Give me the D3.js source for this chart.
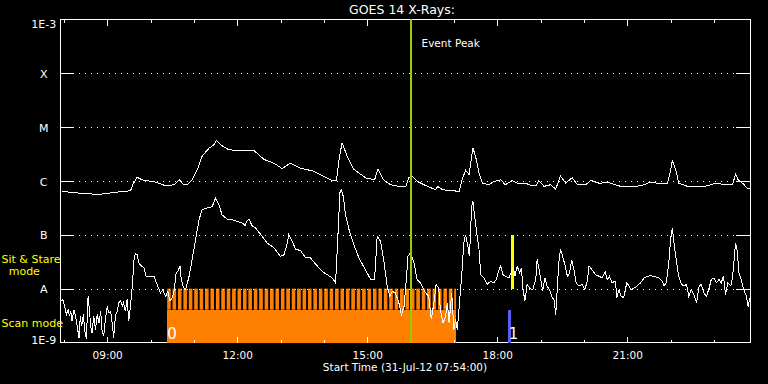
<!DOCTYPE html>
<html><head><meta charset="utf-8">
<script src="https://cdn.jsdelivr.net/npm/d3@7"></script>
<style>
html,body{margin:0;padding:0;background:#000;}
svg{display:block;}
text{font-family:"DejaVu Sans",sans-serif;}
</style></head><body>
<svg id="c" width="768" height="384"></svg>
<script>
// ---------------- data ----------------
const chartTitle = "GOES 14 X-Rays:";
const xAxisTitle = "Start Time (31-Jul-12 07:54:00)";
const dayStart = "07:54", dayEnd = "23:50";
const levelValues = [1e-9, 1e-8, 1e-7, 1e-6, 1e-5, 1e-4, 1e-3];
const levelLabels = ["1E-9", "A", "B", "C", "M", "X", "1E-3"];

// long channel (1-8 A), hour of day and log10 flux (W/m^2)
const longHours = [7.95,8.27,8.79,9.19,9.54,9.59,9.69,9.81,10.12,10.35,10.54,10.67,10.75,10.85,10.96,11.08,11.19,11.35,11.46,11.52,11.62,11.81,12.00,12.23,12.38,12.62,12.85,13.04,13.22,13.46,13.77,13.96,14.19,14.29,14.35,14.42,14.54,14.69,14.96,15.17,15.25,15.38,15.54,15.73,15.89,15.96,16.04,16.16,16.39,16.58,16.63,16.73,16.92,17.12,17.19,17.27,17.35,17.44,17.50,17.58,17.66,17.81,17.92,18.08,18.19,18.35,18.46,18.66,18.79,18.89,18.96,19.08,19.23,19.35,19.46,19.58,19.73,19.85,20.04,20.16,20.35,20.58,20.85,21.15,21.39,21.54,21.77,21.93,21.99,22.04,22.12,22.19,22.39,22.62,22.85,23.04,23.27,23.43,23.50,23.56,23.66,23.77,23.85];
const longLogFlux = [-6.19,-6.22,-6.25,-6.21,-6.18,-6.07,-5.93,-5.98,-6.02,-6.09,-6.07,-5.98,-6.06,-6.07,-5.98,-5.79,-5.54,-5.39,-5.33,-5.25,-5.33,-5.42,-5.43,-5.43,-5.43,-5.60,-5.67,-5.77,-5.67,-5.76,-5.82,-5.90,-5.99,-5.99,-5.60,-5.29,-5.54,-5.78,-5.94,-5.98,-5.78,-5.98,-6.07,-6.10,-6.10,-5.94,-5.91,-6.01,-6.10,-6.16,-6.10,-6.16,-6.18,-6.19,-5.98,-5.80,-5.88,-5.39,-5.54,-5.85,-6.04,-6.07,-6.01,-5.98,-6.07,-5.99,-6.04,-6.04,-6.09,-6.09,-5.99,-6.10,-6.07,-6.15,-5.91,-6.04,-5.94,-6.07,-6.07,-5.99,-6.04,-6.03,-6.10,-6.11,-6.07,-6.02,-6.05,-6.04,-5.85,-5.62,-5.79,-6.04,-6.10,-6.11,-6.09,-6.04,-6.07,-6.07,-5.87,-5.98,-6.04,-6.13,-6.15];

// short channel (0.5-4 A)
const shortHours = [7.95,7.98,8.02,8.06,8.10,8.13,8.16,8.19,8.23,8.27,8.32,8.35,8.38,8.41,8.45,8.48,8.52,8.56,8.59,8.62,8.65,8.69,8.73,8.77,8.81,8.85,8.88,8.92,8.96,9.00,9.04,9.08,9.12,9.15,9.19,9.23,9.27,9.31,9.35,9.38,9.42,9.46,9.50,9.54,9.58,9.62,9.65,9.69,9.73,9.79,9.85,9.90,10.00,10.08,10.15,10.23,10.28,10.35,10.40,10.45,10.50,10.55,10.59,10.63,10.68,10.71,10.75,10.79,10.82,10.89,10.96,11.04,11.12,11.19,11.31,11.42,11.50,11.58,11.65,11.77,11.88,12.00,12.12,12.18,12.23,12.28,12.35,12.42,
12.58,12.69,12.85,13.00,13.08,13.14,13.19,13.27,13.35,13.46,13.58,13.69,13.85,13.96,14.08,14.19,14.27,14.32,14.37,14.40,14.45,14.50,14.58,14.69,14.81,14.96,15.08,15.17,15.23,15.31,15.39,15.46,15.52,15.58,15.65,15.73,15.79,15.85,15.91,15.94,15.99,16.02,16.08,16.15,16.23,16.29,16.35,16.42,16.48,16.54,16.59,16.65,16.69,16.75,16.81,
16.85,16.89,16.95,17.00,17.04,17.08,17.13,17.18,17.23,17.27,17.31,17.36,17.41,17.44,17.49,17.54,17.58,17.62,17.69,17.77,17.85,17.92,17.98,18.04,18.08,18.13,18.19,18.27,18.32,18.37,18.41,18.46,18.52,18.56,18.59,18.64,18.69,18.75,18.82,18.89,18.92,18.96,19.01,19.05,19.10,19.15,19.21,19.27,19.31,19.35,19.39,19.42,19.46,19.50,19.56,19.62,19.67,19.72,19.77,19.82,19.89,19.96,20.02,20.08,20.12,20.19,20.27,20.35,20.42,20.49,20.54,20.59,20.65,20.73,
20.76,20.81,20.86,20.92,20.99,21.04,21.09,21.16,21.23,21.31,21.39,21.46,21.54,21.62,21.73,21.81,21.85,21.90,21.96,22.00,22.04,22.08,22.14,22.19,22.25,22.31,22.37,22.42,22.48,22.54,22.60,22.66,22.71,22.77,22.83,22.89,22.94,23.00,23.06,23.12,23.17,23.22,23.27,23.32,23.39,23.43,23.46,23.50,23.54,23.58,23.63,23.69,23.75,23.79,23.82,23.85];
const shortLogFlux = [-8.23,-8.20,-8.33,-8.48,-8.39,-8.51,-8.42,-8.60,-8.39,-8.51,-8.76,-8.91,-8.51,-8.70,-8.48,-8.76,-8.94,-8.14,-8.39,-8.70,-8.82,-8.51,-8.76,-8.48,-8.64,-8.42,-8.76,-8.88,-8.57,-8.33,-8.45,-8.42,-8.67,-8.91,-8.51,-8.42,-8.26,-8.23,-8.33,-8.26,-8.42,-8.20,-8.60,-8.29,-7.95,-7.46,-7.34,-7.37,-7.52,-7.58,-7.61,-7.77,-7.77,-7.77,-7.92,-8.08,-8.02,-8.14,-8.05,-8.23,-8.17,-8.02,-7.71,-7.68,-7.58,-7.83,-7.95,-8.02,-7.99,-7.77,-7.46,-7.09,-6.72,-6.53,-6.50,-6.48,-6.32,-6.44,-6.63,-6.71,-6.72,-6.75,-6.78,-6.83,-6.73,-6.72,-6.84,-6.87,
-7.03,-7.15,-7.24,-7.40,-7.37,-7.21,-7.00,-7.12,-7.27,-7.29,-7.43,-7.43,-7.58,-7.68,-7.74,-7.80,-7.89,-7.09,-6.22,-6.16,-6.29,-6.63,-6.90,-7.18,-7.43,-7.65,-7.83,-7.83,-7.03,-7.12,-7.52,-7.95,-8.14,-8.05,-8.08,-8.26,-8.48,-8.33,-7.77,-7.40,-7.34,-7.37,-7.52,-7.83,-7.89,-7.99,-8.08,-8.14,-8.57,-8.26,-7.92,-7.99,-8.39,-8.64,-8.51,
-8.26,-8.64,-8.08,-8.76,-8.57,-8.76,-8.26,-7.77,-7.15,-7.00,-7.15,-7.40,-6.47,-6.38,-6.72,-7.03,-7.27,-7.74,-7.80,-7.92,-7.86,-7.89,-7.83,-7.65,-7.58,-7.74,-7.77,-7.80,-7.71,-7.58,-7.77,-7.58,-7.71,-7.61,-7.99,-8.23,-7.92,-7.99,-8.02,-7.83,-7.46,-7.61,-7.86,-8.05,-7.80,-7.95,-8.02,-8.17,-8.20,-8.48,-7.95,-7.52,-7.27,-7.37,-7.55,-7.77,-7.71,-7.46,-7.65,-7.89,-7.95,-7.92,-8.02,-7.86,-7.58,-7.65,-7.74,-7.77,-7.80,-7.68,-7.83,-7.77,-7.89,-7.86,
-8.17,-8.02,-8.14,-8.17,-7.89,-7.95,-8.02,-7.99,-7.95,-7.89,-7.80,-7.77,-7.76,-7.77,-7.80,-7.86,-7.95,-7.89,-7.52,-7.09,-6.87,-7.15,-7.52,-7.77,-7.92,-7.95,-7.92,-8.14,-8.02,-8.11,-8.26,-7.95,-7.92,-8.08,-8.14,-7.99,-7.83,-7.80,-7.89,-7.83,-7.89,-7.77,-8.11,-7.89,-7.95,-7.80,-7.52,-7.15,-7.31,-7.71,-7.83,-8.02,-8.14,-8.33,-8.20,-8.14];

const eventPeak = "16:00";
const eventLabel = "Event Peak";
const scanWindow = ["10:23", "17:03"];
const scanCadenceMin = 7.5;
const sitStareMarks = ["18:20"];
const scanMarks = ["18:17"];
const instrumentTimes = ["10:23", "18:20"];
const instrumentNames = ["0", "1"];
const modeLabels = ["Sit & Stare", "mode", "Scan mode"];

// ---------------- drawing ----------------
const W = 768, H = 384;
const L = 60.5, R = 750.5, T = 19.5, B = 342.5;
const tm = s => { const [hh, mm] = s.split(":").map(Number); return new Date(2012, 6, 31, hh, mm); };
const hd = h => new Date(2012, 6, 31, 0, 0, Math.round(h * 3600));

const x = d3.scaleTime().domain([tm(dayStart), tm(dayEnd)]).range([59.5, 750]);
const y = d3.scaleLog().domain([levelValues[0], levelValues[levelValues.length - 1]]).range([B, T]);

const svg = d3.select("#c");
svg.append("rect").attr("width", W).attr("height", H).attr("fill", "#000");

const defs = svg.append("defs");
defs.append("clipPath").attr("id", "plot").append("rect")
  .attr("x", L).attr("y", T).attr("width", R - L).attr("height", B - T + 1);

// frame
const frame = svg.append("g").attr("stroke", "#fff").attr("stroke-width", 1).attr("shape-rendering", "crispEdges");
frame.append("rect").attr("x", L).attr("y", T).attr("width", R - L).attr("height", B - T).attr("fill", "none");

// mode bands
const yA = y(1e-8), yB = y(1e-7);
const yMid = yA + (B - yA) * 0.39;
const x0 = x(tm(scanWindow[0])), x1 = x(tm(scanWindow[1]));
const period = x(new Date(+tm(scanWindow[0]) + scanCadenceMin * 60000)) - x0;
const pat = defs.append("pattern").attr("id", "stripes").attr("patternUnits", "userSpaceOnUse")
  .attr("x", x0).attr("y", 0).attr("width", period).attr("height", 400);
pat.append("rect").attr("x", 0).attr("y", 0).attr("width", period * 0.66).attr("height", 400).attr("fill", "#ff8000");

svg.append("rect").attr("x", x0).attr("y", yA).attr("width", x1 - x0).attr("height", yMid - yA)
  .attr("fill", "url(#stripes)");
svg.append("rect").attr("x", x0).attr("y", yMid).attr("width", x1 - x0).attr("height", B + 0.5 - yMid)
  .attr("fill", "#ff8000").attr("shape-rendering", "crispEdges");

svg.selectAll(".ss").data(sitStareMarks).join("rect")
  .attr("x", d => Math.round(x(tm(d))) - 1).attr("width", 3)
  .attr("y", yB).attr("height", yA - yB).attr("fill", "#ffff00").attr("shape-rendering", "crispEdges");
svg.selectAll(".sc").data(scanMarks).join("rect")
  .attr("x", d => Math.round(x(tm(d))) - 1).attr("width", 3)
  .attr("y", yMid).attr("height", B + 0.5 - yMid).attr("fill", "#5a5af5").attr("shape-rendering", "crispEdges");

// horizontal level grid
const inner = levelValues.slice(1, -1);
const grid = svg.append("g").attr("stroke", "#fff").attr("shape-rendering", "crispEdges");
grid.selectAll("line.dot").data(inner).join("line")
  .attr("x1", 79).attr("x2", 736).attr("y1", d => Math.round(y(d)) + 0.5).attr("y2", d => Math.round(y(d)) + 0.5)
  .attr("stroke-dasharray", "1 5");
grid.selectAll("line.lt").data(inner).join("line")
  .attr("x1", L).attr("x2", 74).attr("y1", d => Math.round(y(d)) + 0.5).attr("y2", d => Math.round(y(d)) + 0.5);
grid.selectAll("line.rt").data(inner).join("line")
  .attr("x1", 736).attr("x2", R).attr("y1", d => Math.round(y(d)) + 0.5).attr("y2", d => Math.round(y(d)) + 0.5);

// y labels
svg.append("g").selectAll("text").data(levelValues).join("text")
  .attr("x", 43.7).attr("text-anchor", "middle")
  .attr("y", d => Math.max(27.5, Math.min(344, y(d) + 4.5)))
  .attr("fill", "#fff").attr("font-size", 11)
  .text((d, i) => levelLabels[i]);

// x axes
function styleAxis(g) {
  g.select(".domain").remove();
  g.selectAll(".tick line").attr("stroke", "#fff").attr("shape-rendering", "crispEdges");
  g.selectAll(".tick text").attr("fill", "#fff").attr("font-size", 10.5).attr("font-family", "DejaVu Sans, sans-serif");
}
svg.append("g").attr("transform", `translate(0,${B})`)
  .call(d3.axisBottom(x).ticks(d3.timeHour.every(1)).tickSize(-3).tickFormat(""))
  .call(styleAxis);
svg.append("g").attr("transform", `translate(0,${B})`)
  .call(d3.axisBottom(x).ticks(d3.timeHour.every(3)).tickSize(-6).tickPadding(9).tickFormat(d3.timeFormat("%H:%M")))
  .call(styleAxis);
svg.append("g").attr("transform", `translate(0,${T})`)
  .call(d3.axisTop(x).ticks(d3.timeHour.every(1)).tickSize(-3).tickFormat(""))
  .call(styleAxis);
svg.append("g").attr("transform", `translate(0,${T})`)
  .call(d3.axisTop(x).ticks(d3.timeHour.every(3)).tickSize(-6).tickFormat(""))
  .call(styleAxis);

// data lines
const line = d3.line().x(d => x(hd(d[0]))).y(d => y(Math.pow(10, d[1])));
const longData = d3.zip(longHours, longLogFlux);
const shortData = d3.zip(shortHours, shortLogFlux);
const dl = svg.append("g").attr("clip-path", "url(#plot)");
[longData, shortData].forEach(ds => {
  dl.append("path").datum(ds).attr("d", line).attr("fill", "none")
    .attr("stroke", "#fff").attr("stroke-width", 1).attr("shape-rendering", "crispEdges");
});

// event peak line
const xp = Math.round(x(tm(eventPeak)));
svg.append("rect").attr("x", xp - 1).attr("y", T - 0.5).attr("width", 2).attr("height", B - T + 1)
  .attr("fill", "#99cc00").attr("shape-rendering", "crispEdges");
svg.append("text").attr("x", x(tm(eventPeak)) + 11).attr("y", 46.5)
  .attr("fill", "#fff").attr("font-size", 10.5).text(eventLabel);

// instrument labels
svg.selectAll(".inst").data(instrumentTimes).join("text")
  .attr("x", (d, i) => x(tm(d)) + (i === 0 ? 5 : 2)).attr("y", 338.5).attr("text-anchor", "middle")
  .attr("fill", "#fff").attr("font-size", 15).text((d, i) => instrumentNames[i]);

// titles
svg.append("text").attr("x", 402).attr("y", 13.5).attr("text-anchor", "middle")
  .attr("fill", "#fff").attr("font-size", 12.5).text(chartTitle);
svg.append("text").attr("x", 405).attr("y", 371).attr("text-anchor", "middle")
  .attr("fill", "#fff").attr("font-size", 10.5).text(xAxisTitle);

// mode labels
svg.append("text").attr("x", 1.5).attr("y", 263).attr("fill", "#ffff00").attr("font-size", 11).text(modeLabels[0]);
svg.append("text").attr("x", 24.3).attr("y", 275).attr("text-anchor", "middle").attr("fill", "#ffff00").attr("font-size", 11).text(modeLabels[1]);
svg.append("text").attr("x", 1.5).attr("y", 327).attr("fill", "#ffff00").attr("font-size", 11).text(modeLabels[2]);
</script>
</body></html>
